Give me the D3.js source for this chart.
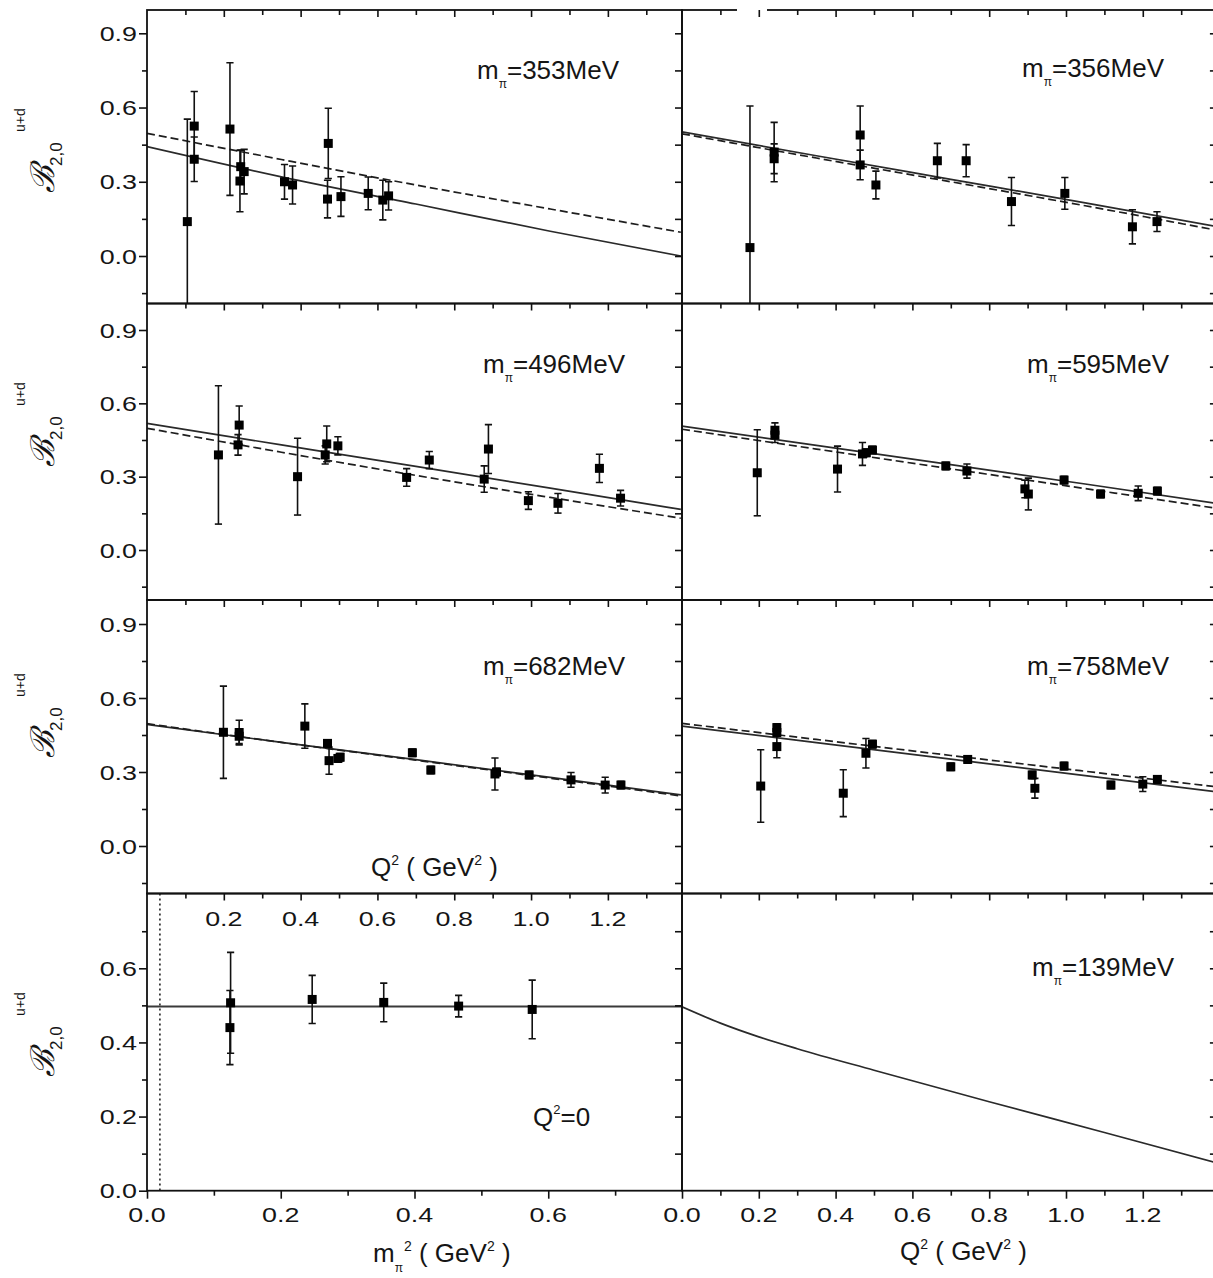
<!DOCTYPE html>
<html>
<head>
<meta charset="utf-8">
<script src="https://cdn.jsdelivr.net/npm/d3@7"></script>
<style>
  body { margin: 0; background: #fff; }
  svg { display: block; }
</style>
</head>
<body>
<svg id="chart" width="1213" height="1278"></svg>
<script>
// ---------------- data ----------------
// Lattice points for each pion mass: [Q² (GeV²), B20(u+d), error]
const pts353 = [
  [0.105, 0.139, 0.414], [0.123, 0.525, 0.14], [0.123, 0.391, 0.09],
  [0.216, 0.513, 0.268], [0.244, 0.361, 0.067], [0.242, 0.303, 0.124],
  [0.253, 0.341, 0.09], [0.358, 0.300, 0.07], [0.379, 0.287, 0.077],
  [0.472, 0.455, 0.142], [0.470, 0.230, 0.076], [0.505, 0.240, 0.08],
  [0.576, 0.253, 0.066], [0.614, 0.226, 0.08], [0.629, 0.243, 0.057]
];
const pts356 = [
  [0.177, 0.034, 0.572], [0.240, 0.420, 0.12], [0.240, 0.393, 0.06],
  [0.464, 0.489, 0.117], [0.464, 0.368, 0.06], [0.505, 0.287, 0.056],
  [0.665, 0.385, 0.07], [0.740, 0.385, 0.065], [0.858, 0.220, 0.097],
  [0.997, 0.253, 0.064], [1.173, 0.118, 0.069], [1.237, 0.139, 0.04]
];
const pts496 = [
  [0.186, 0.389, 0.283], [0.240, 0.511, 0.078], [0.237, 0.430, 0.042],
  [0.392, 0.300, 0.157], [0.464, 0.389, 0.037], [0.468, 0.434, 0.073],
  [0.497, 0.426, 0.037], [0.676, 0.297, 0.036], [0.735, 0.368, 0.035],
  [0.878, 0.290, 0.054], [0.889, 0.413, 0.10], [0.993, 0.202, 0.036],
  [1.070, 0.191, 0.04], [1.178, 0.334, 0.058], [1.233, 0.212, 0.032]
];
const pts595 = [
  [0.196, 0.316, 0.176], [0.242, 0.490, 0.03], [0.242, 0.470, 0.03],
  [0.405, 0.331, 0.094], [0.470, 0.393, 0.047], [0.480, 0.398, 0.015],
  [0.496, 0.409, 0.015], [0.687, 0.344, 0.015], [0.742, 0.323, 0.029],
  [0.893, 0.250, 0.036], [0.902, 0.229, 0.065], [0.995, 0.286, 0.015],
  [1.090, 0.229, 0.015], [1.188, 0.232, 0.03], [1.238, 0.241, 0.015]
];
const pts682 = [
  [0.199, 0.461, 0.187], [0.240, 0.460, 0.05], [0.240, 0.445, 0.03],
  [0.411, 0.486, 0.09], [0.470, 0.416, 0.015], [0.474, 0.346, 0.055],
  [0.497, 0.355, 0.015], [0.503, 0.360, 0.015], [0.691, 0.378, 0.015],
  [0.739, 0.308, 0.015], [0.906, 0.292, 0.065], [0.910, 0.300, 0.015],
  [0.995, 0.288, 0.015], [1.104, 0.268, 0.03], [1.193, 0.247, 0.032],
  [1.234, 0.247, 0.015]
];
const pts758 = [
  [0.205, 0.243, 0.147], [0.247, 0.480, 0.015], [0.247, 0.460, 0.015],
  [0.247, 0.403, 0.045], [0.420, 0.214, 0.095], [0.479, 0.376, 0.06],
  [0.496, 0.413, 0.015], [0.700, 0.321, 0.015], [0.744, 0.351, 0.015],
  [0.912, 0.288, 0.015], [0.919, 0.234, 0.04], [0.995, 0.324, 0.015],
  [1.117, 0.247, 0.015], [1.200, 0.251, 0.03], [1.238, 0.270, 0.015]
];

// Fit curves sampled in Q²: [Q², B20]
const fit353Solid  = [[0, 0.442], [0.35, 0.32], [0.7, 0.21], [1.05, 0.10], [1.39, 0.0]];
const fit353Dashed = [[0, 0.496], [0.35, 0.39], [0.7, 0.287], [1.05, 0.19], [1.39, 0.096]];
const fit356Solid  = [[0, 0.502], [0.35, 0.405], [0.7, 0.31], [1.05, 0.215], [1.39, 0.12]];
const fit356Dashed = [[0, 0.494], [0.35, 0.396], [0.7, 0.30], [1.05, 0.203], [1.39, 0.105]];
const fit496Solid  = [[0, 0.518], [0.35, 0.43], [0.7, 0.342], [1.05, 0.253], [1.39, 0.166]];
const fit496Dashed = [[0, 0.498], [0.35, 0.40], [0.7, 0.305], [1.05, 0.215], [1.39, 0.13]];
const fit595Solid  = [[0, 0.507], [0.35, 0.428], [0.7, 0.349], [1.05, 0.27], [1.39, 0.191]];
const fit595Dashed = [[0, 0.494], [0.35, 0.413], [0.7, 0.332], [1.05, 0.251], [1.39, 0.171]];
const fit682Solid  = [[0, 0.493], [0.35, 0.42], [0.7, 0.35], [1.05, 0.278], [1.39, 0.207]];
const fit682Dashed = [[0, 0.496], [0.35, 0.42], [0.7, 0.348], [1.05, 0.275], [1.39, 0.203]];
const fit758Solid  = [[0, 0.486], [0.35, 0.419], [0.7, 0.352], [1.05, 0.285], [1.39, 0.22]];
const fit758Dashed = [[0, 0.497], [0.35, 0.432], [0.7, 0.367], [1.05, 0.303], [1.39, 0.24]];

// Forward values vs m_π²: [m_π² (GeV²), B20(u+d), error]
const ptsQ0 = [
  [0.125, 0.507, 0.136], [0.124, 0.440, 0.10], [0.247, 0.516, 0.065],
  [0.354, 0.508, 0.052], [0.466, 0.498, 0.029], [0.576, 0.489, 0.079]
];
const lineQ0 = [[0, 0.497], [0.8, 0.497]];
const physMpi2 = 0.0193;   // (139 MeV)²

// Prediction at the physical pion mass: [Q², B20]
const curve139 = [[0, 0.496], [0.1, 0.452], [0.2, 0.415], [0.3, 0.383], [0.5, 0.325],
                  [0.8, 0.24], [1.1, 0.157], [1.39, 0.076]];

// Tick values and labels
const yTicksMain = [0, 0.3, 0.6, 0.9];
const yTicksMainMinor = [-0.15, 0.15, 0.45, 0.75];
const yTickLabelsMain = ["0.0", "0.3", "0.6", "0.9"];
const yTicksQ0 = [0, 0.2, 0.4, 0.6];
const yTicksQ0Minor = [0.1, 0.3, 0.5, 0.7];
const yTickLabelsQ0 = ["0.0", "0.2", "0.4", "0.6"];
const qTicksMajor = [0, 0.2, 0.4, 0.6, 0.8, 1.0, 1.2];
const qTicksMinor = [0.1, 0.3, 0.5, 0.7, 0.9, 1.1, 1.3];
const qTickLabels = ["0.0", "0.2", "0.4", "0.6", "0.8", "1.0", "1.2"];
const mTicksMajor = [0, 0.2, 0.4, 0.6];
const mTicksMinor = [0.1, 0.3, 0.5, 0.7];
const mTickLabels = ["0.0", "0.2", "0.4", "0.6"];

// ---------------- layout ----------------
const svg = d3.select("#chart")
  .attr("font-family", "'Liberation Sans', Arial, sans-serif")
  .attr("fill", "#151515");

const INK = "#111";
const leftX0 = 147, midX = 682, rightX1 = 1216.9;
const rowTop = [10, 303.5, 600, 893.5];
const rowBot = [303.5, 600, 893.5, 1190.7];

const xQL = d3.scaleLinear().domain([0, 1.393]).range([leftX0, midX]);
const xQR = d3.scaleLinear().domain([0, 1.393]).range([midX, rightX1]);
const xM  = d3.scaleLinear().domain([0, 0.8]).range([leftX0, midX]);
const yRows = [
  d3.scaleLinear().domain([0, 0.9]).range([256, 33.3]),
  d3.scaleLinear().domain([0, 0.9]).range([550, 330]),
  d3.scaleLinear().domain([0, 0.9]).range([846, 624])
];
const yQ0 = d3.scaleLinear().domain([0, 0.6]).range([1190.7, 968.3]);

const range = (a, b, s) => d3.range(0, Math.round((b - a) / s) + 1).map(i => +(a + i * s).toFixed(3));
const allQTicks = range(0.1, 1.3, 0.1);

// ---------------- helpers ----------------
function stretchText(x, y, str, size, anchor, sx) {
  svg.append("text")
    .attr("transform", `translate(${x},${y}) scale(${sx},1)`)
    .attr("text-anchor", anchor)
    .attr("font-size", size)
    .text(str);
}

function tickAxis(axis, tx, ty) {
  const g = svg.append("g").attr("transform", `translate(${tx},${ty})`)
    .call(axis.tickFormat(() => ""));
  g.select(".domain").remove();
  g.selectAll(".tick line").attr("stroke", INK).attr("stroke-width", 1.6);
  return g;
}

let clipId = 0;
function panel(x0, x1, y0, y1) {
  const id = "clip" + (clipId++);
  svg.append("clipPath").attr("id", id)
    .append("rect").attr("x", x0).attr("y", y0).attr("width", x1 - x0).attr("height", y1 - y0);
  return svg.append("g").attr("clip-path", `url(#${id})`);
}

function drawCurve(g, data, x, y, dashed) {
  const line = d3.line().x(d => x(d[0])).y(d => y(d[1])).curve(d3.curveMonotoneX);
  g.append("path").datum(data)
    .attr("d", line)
    .attr("fill", "none")
    .attr("stroke", dashed ? "#1e1e1e" : "#2a2a2a")
    .attr("stroke-width", 1.7)
    .attr("stroke-dasharray", dashed ? "8,4" : null);
}

function drawPoints(g, data, x, y) {
  const cap = 3.6;
  const bars = g.append("g").attr("stroke", INK).attr("stroke-width", 1.6);
  data.forEach(([q, v, e]) => {
    const px = x(q), lo = y(v - e), hi = y(v + e);
    bars.append("line").attr("x1", px).attr("x2", px).attr("y1", lo).attr("y2", hi);
    bars.append("line").attr("x1", px - cap).attr("x2", px + cap).attr("y1", lo).attr("y2", lo);
    bars.append("line").attr("x1", px - cap).attr("x2", px + cap).attr("y1", hi).attr("y2", hi);
  });
  g.append("g").selectAll("rect").data(data).join("rect")
    .attr("x", d => x(d[0]) - 4.5).attr("y", d => y(d[1]) - 4.5)
    .attr("width", 9).attr("height", 9).attr("fill", "#000");
}

function massLabel(x, y, mass) {
  const t = svg.append("text").attr("x", x).attr("y", y).attr("font-size", 26);
  t.append("tspan").text("m");
  t.append("tspan").attr("font-size", 12).attr("dy", 9).text("π");
  t.append("tspan").attr("dy", -9).text("=" + mass + "MeV");
}

function yTitle(s) {
  const g = svg.append("g");
  g.append("text").attr("transform", `translate(54,${s}) rotate(-90)`)
    .attr("font-size", 33).attr("font-family", "'DejaVu Serif', serif").attr("font-style", "italic")
    .text("ℬ");
  g.append("text").attr("transform", `translate(62,${s - 27}) rotate(-90)`)
    .attr("font-size", 17).text("2,0");
  g.append("text").attr("transform", `translate(25,${s - 61}) rotate(-90)`)
    .attr("font-size", 14).text("u+d");
}

function qTitle(x, y) {
  const t = svg.append("text").attr("x", x).attr("y", y).attr("font-size", 26);
  t.append("tspan").text("Q");
  t.append("tspan").attr("font-size", 14).attr("dy", -11).text("2");
  t.append("tspan").attr("dy", 11).text(" ( GeV");
  t.append("tspan").attr("font-size", 14).attr("dy", -11).text("2");
  t.append("tspan").attr("dy", 11).text(" )");
}

// ---------------- panels: Q² dependence ----------------
const qPanels = [
  { row: 0, col: 0, pts: pts353, solid: fit353Solid, dashed: fit353Dashed, mass: "353", lx: 477, ly: 79 },
  { row: 0, col: 1, pts: pts356, solid: fit356Solid, dashed: fit356Dashed, mass: "356", lx: 1022, ly: 77 },
  { row: 1, col: 0, pts: pts496, solid: fit496Solid, dashed: fit496Dashed, mass: "496", lx: 483, ly: 373 },
  { row: 1, col: 1, pts: pts595, solid: fit595Solid, dashed: fit595Dashed, mass: "595", lx: 1027, ly: 373 },
  { row: 2, col: 0, pts: pts682, solid: fit682Solid, dashed: fit682Dashed, mass: "682", lx: 483, ly: 675 },
  { row: 2, col: 1, pts: pts758, solid: fit758Solid, dashed: fit758Dashed, mass: "758", lx: 1027, ly: 675 }
];

qPanels.forEach(p => {
  const x = p.col === 0 ? xQL : xQR;
  const y = yRows[p.row];
  const x0 = p.col === 0 ? leftX0 : midX, x1 = p.col === 0 ? midX : rightX1;
  const g = panel(x0, x1, rowTop[p.row], rowBot[p.row]);
  drawCurve(g, p.solid, x, y, false);
  drawCurve(g, p.dashed, x, y, true);
  drawPoints(g, p.pts, x, y);
  massLabel(p.lx, p.ly, p.mass);
});

// ---------------- bottom-left: Q² = 0 vs m_π² ----------------
{
  const g = panel(leftX0, midX, rowTop[3], rowBot[3]);
  g.append("line")
    .attr("x1", xM(physMpi2)).attr("x2", xM(physMpi2))
    .attr("y1", rowTop[3]).attr("y2", rowBot[3])
    .attr("stroke", INK).attr("stroke-width", 1.5).attr("stroke-dasharray", "2,3");
  g.append("path").datum(lineQ0)
    .attr("d", d3.line().x(d => xM(d[0])).y(d => yQ0(d[1])))
    .attr("fill", "none").attr("stroke", "#3a3a3a").attr("stroke-width", 1.8);
  drawPoints(g, ptsQ0, xM, yQ0);
  const t = svg.append("text").attr("x", 533).attr("y", 1126).attr("font-size", 26);
  t.append("tspan").text("Q");
  t.append("tspan").attr("font-size", 13).attr("dy", -12).text("2");
  t.append("tspan").attr("dy", 12).text("=0");
}

// ---------------- bottom-right: physical pion mass ----------------
{
  const g = panel(midX, rightX1, rowTop[3], rowBot[3]);
  drawCurve(g, curve139, xQR, yQ0, false);
  massLabel(1032, 976, "139");
}

// ---------------- frames ----------------
const frames = svg.append("g").attr("fill", "none").attr("stroke", INK).attr("stroke-width", 1.8);
for (let r = 0; r < 4; r++) {
  frames.append("rect").attr("x", leftX0).attr("y", rowTop[r]).attr("width", midX - leftX0).attr("height", rowBot[r] - rowTop[r]);
  frames.append("rect").attr("x", midX).attr("y", rowTop[r]).attr("width", rightX1 - midX).attr("height", rowBot[r] - rowTop[r]);
}
// break in the top border of the upper-right panel
svg.append("rect").attr("x", 737).attr("y", 7).attr("width", 30).attr("height", 6).attr("fill", "#fff");

// ---------------- ticks ----------------
for (let r = 0; r < 4; r++) {
  const y = r < 3 ? yRows[r] : yQ0;
  const maj = r < 3 ? yTicksMain : yTicksQ0;
  const mnr = r < 3 ? yTicksMainMinor : yTicksQ0Minor;
  const all = r < 3 ? range(-0.15, 0.9, 0.15) : range(0.1, 0.7, 0.1);
  // left axis, outward
  tickAxis(d3.axisLeft(y).tickValues(maj).tickSize(8), leftX0, 0);
  tickAxis(d3.axisLeft(y).tickValues(mnr).tickSize(5), leftX0, 0);
  // inward ticks on the right sides
  tickAxis(d3.axisRight(y).tickValues(all).tickSize(-7), midX, 0);
  tickAxis(d3.axisRight(y).tickValues(all).tickSize(-7), rightX1, 0);
  // inward ticks along the tops
  tickAxis(d3.axisTop(xQL).tickValues(qTicksMajor.slice(1)).tickSize(-7), 0, rowTop[r]);
  tickAxis(d3.axisTop(xQL).tickValues(qTicksMinor).tickSize(-5), 0, rowTop[r]);
  tickAxis(d3.axisTop(xQR).tickValues(qTicksMajor.slice(1)).tickSize(-7), 0, rowTop[r]);
  tickAxis(d3.axisTop(xQR).tickValues(qTicksMinor).tickSize(-5), 0, rowTop[r]);
}
// bottom axes, outward
tickAxis(d3.axisBottom(xM).tickValues(mTicksMajor).tickSize(8), 0, rowBot[3]);
tickAxis(d3.axisBottom(xM).tickValues(mTicksMinor).tickSize(5), 0, rowBot[3]);
tickAxis(d3.axisBottom(xQR).tickValues(qTicksMajor).tickSize(8), 0, rowBot[3]);
tickAxis(d3.axisBottom(xQR).tickValues(qTicksMinor).tickSize(5), 0, rowBot[3]);

// ---------------- tick labels ----------------
const TICK_FS = 21, TICK_SX = 1.28;
for (let r = 0; r < 3; r++) {
  yTicksMain.forEach((v, i) => stretchText(137, yRows[r](v) + 7.5, yTickLabelsMain[i], TICK_FS, "end", TICK_SX));
}
yTicksQ0.forEach((v, i) => stretchText(137, yQ0(v) + 7.5, yTickLabelsQ0[i], TICK_FS, "end", TICK_SX));
mTicksMajor.forEach((v, i) => stretchText(xM(v), 1222, mTickLabels[i], TICK_FS, "middle", TICK_SX));
qTicksMajor.forEach((v, i) => stretchText(xQR(v), 1222, qTickLabels[i], TICK_FS, "middle", TICK_SX));
// Q² scale of the third row, labelled just below its frame
qTicksMajor.slice(1).forEach((v, i) => stretchText(xQL(v), 926, qTickLabels[i + 1], TICK_FS, "middle", TICK_SX));

// ---------------- axis titles ----------------
[193, 467, 758, 1077].forEach(yTitle);
qTitle(371, 876);
qTitle(900, 1260);
{
  const t = svg.append("text").attr("x", 373).attr("y", 1262).attr("font-size", 26);
  t.append("tspan").text("m");
  t.append("tspan").attr("font-size", 12).attr("dy", 10).text("π");
  t.append("tspan").attr("font-size", 14).attr("dy", -21).attr("dx", 1).text("2");
  t.append("tspan").attr("dy", 11).text(" ( GeV");
  t.append("tspan").attr("font-size", 14).attr("dy", -11).text("2");
  t.append("tspan").attr("dy", 11).text(" )");
}
</script>
</body>
</html>
